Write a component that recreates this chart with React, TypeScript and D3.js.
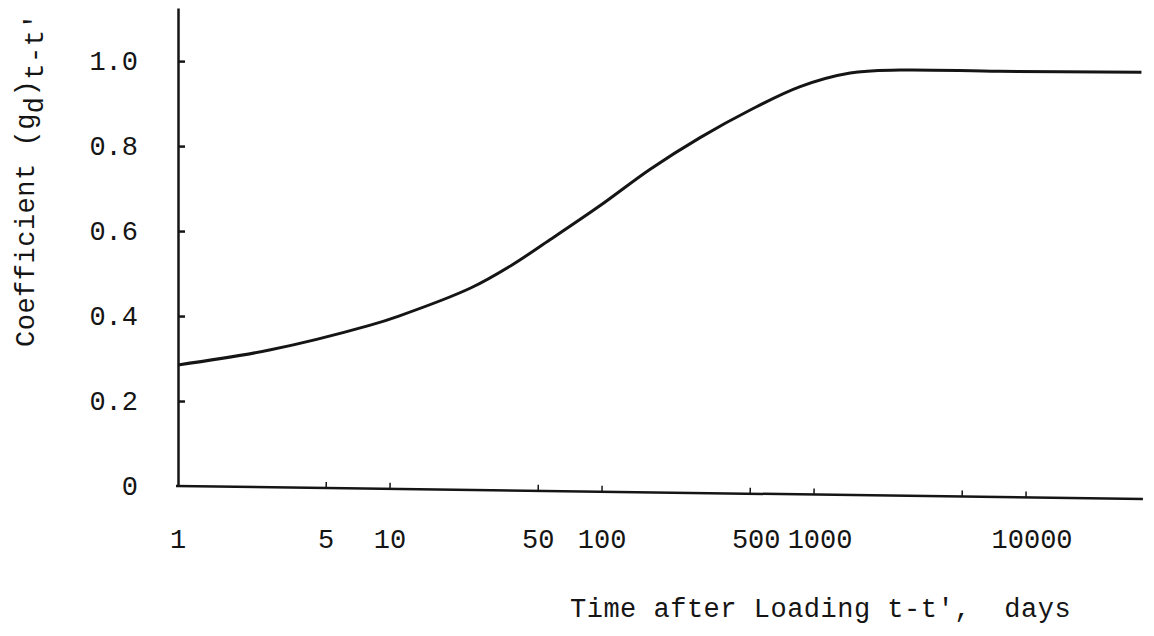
import React, { useEffect, useRef } from "react";
import * as d3 from "d3";

// values
const days = [1, 2.7, 8, 11, 24, 37, 57, 98, 168, 290, 500, 860, 1480, 2550, 7500, 35000];
const coefficient = [0.285, 0.32, 0.378, 0.4, 0.466, 0.518, 0.58, 0.66, 0.745, 0.82, 0.885, 0.94, 0.972, 0.979, 0.976, 0.974];

const xTickValues = [5, 10, 50, 100, 500, 1000, 5000, 10000];
const xLabelValues = [1, 5, 10, 50, 100, 500, 1000, 10000];
const xLabels = ["1", "5", "10", "50", "100", "500", "1000", "10000"];
const yTickValues = [0, 0.2, 0.4, 0.6, 0.8, 1.0];
const yLabels = ["0", "0.2", "0.4", "0.6", "0.8", "1.0"];

const FONT = "'Liberation Mono', 'DejaVu Sans Mono', monospace";
const INK = "#151515";

function App() {
  const ref = useRef(null);

  useEffect(() => {
    drawChart();
  }, []);

  function drawChart() {
    const width = 1154;
    const height = 636;

    const svg = d3.select(ref.current);
    svg.selectAll("*").remove();
    svg.attr("width", width).attr("height", height);

    const x = d3.scaleLog().domain([1, 35600]).range([178, 1143]);
    const y = d3.scaleLinear().domain([0, 1.125]).range([486, 8]);

    // y axis, ticks pointing inward
    const yAxis = d3
      .axisLeft(y)
      .tickValues(yTickValues)
      .tickSizeInner(-7)
      .tickSizeOuter(0)
      .tickPadding(40)
      .tickFormat((_, i) => yLabels[i]);

    const gy = svg
      .append("g")
      .attr("transform", `translate(${x(1)},0)`)
      .call(yAxis);
    gy.select(".domain").attr("stroke", INK).attr("stroke-width", 2.5);
    gy.selectAll(".tick line")
      .attr("stroke", INK)
      .attr("stroke-width", 2.5)
      .filter((d) => d === 0)
      .remove();
    gy.selectAll(".tick text")
      .attr("font-family", FONT)
      .attr("font-size", 27)
      .attr("fill", INK);

    // x axis (the scan is a little tilted)
    const gx = svg
      .append("g")
      .attr("transform", `rotate(0.77, ${x(1)}, ${y(0)})`);
    gx.append("line")
      .attr("x1", x(1) - 2)
      .attr("x2", x.range()[1])
      .attr("y1", y(0))
      .attr("y2", y(0))
      .attr("stroke", INK)
      .attr("stroke-width", 2.5);
    gx.selectAll(".xt")
      .data(xTickValues)
      .enter()
      .append("line")
      .attr("x1", (d) => x(d))
      .attr("x2", (d) => x(d))
      .attr("y1", y(0))
      .attr("y2", y(0) - 6)
      .attr("stroke", INK)
      .attr("stroke-width", 1.5);

    svg
      .selectAll(".xl")
      .data(xLabelValues)
      .enter()
      .append("text")
      .attr("x", (d) => x(d) + (d > 100 ? 6 : 0))
      .attr("y", 548)
      .attr("text-anchor", "middle")
      .attr("font-family", FONT)
      .attr("font-size", 27)
      .attr("fill", INK)
      .text((_, i) => xLabels[i]);

    // curve
    const line = d3
      .line()
      .x((d) => x(d[0]))
      .y((d) => y(d[1]))
      .curve(d3.curveCatmullRom.alpha(0.5));

    svg
      .append("path")
      .datum(days.map((d, i) => [d, coefficient[i]]))
      .attr("d", line)
      .attr("fill", "none")
      .attr("stroke", INK)
      .attr("stroke-width", 3);

    // axis titles
    svg
      .append("text")
      .attr("x", 570)
      .attr("y", 617)
      .attr("font-family", FONT)
      .attr("font-size", 27)
      .attr("letter-spacing", 0.5)
      .attr("fill", INK)
      .style("white-space", "pre")
      .text("Time after Loading t-t',  days");

    const yt = svg
      .append("text")
      .attr("transform", "translate(34,347) rotate(-90)")
      .attr("font-family", FONT)
      .attr("font-size", 27)
      .attr("letter-spacing", 0.5)
      .attr("fill", INK);
    yt.append("tspan").text("Coefficient (g");
    yt.append("tspan").attr("dy", 9).text("d");
    yt.append("tspan").attr("dy", -9).text(")");
    yt.append("tspan").attr("dy", 9).text("t-t'");
  }

  return (
    <svg
      ref={ref}
      style={{ position: "absolute", left: 0, top: 0, background: "#fff" }}
    ></svg>
  );
}

export default App;
